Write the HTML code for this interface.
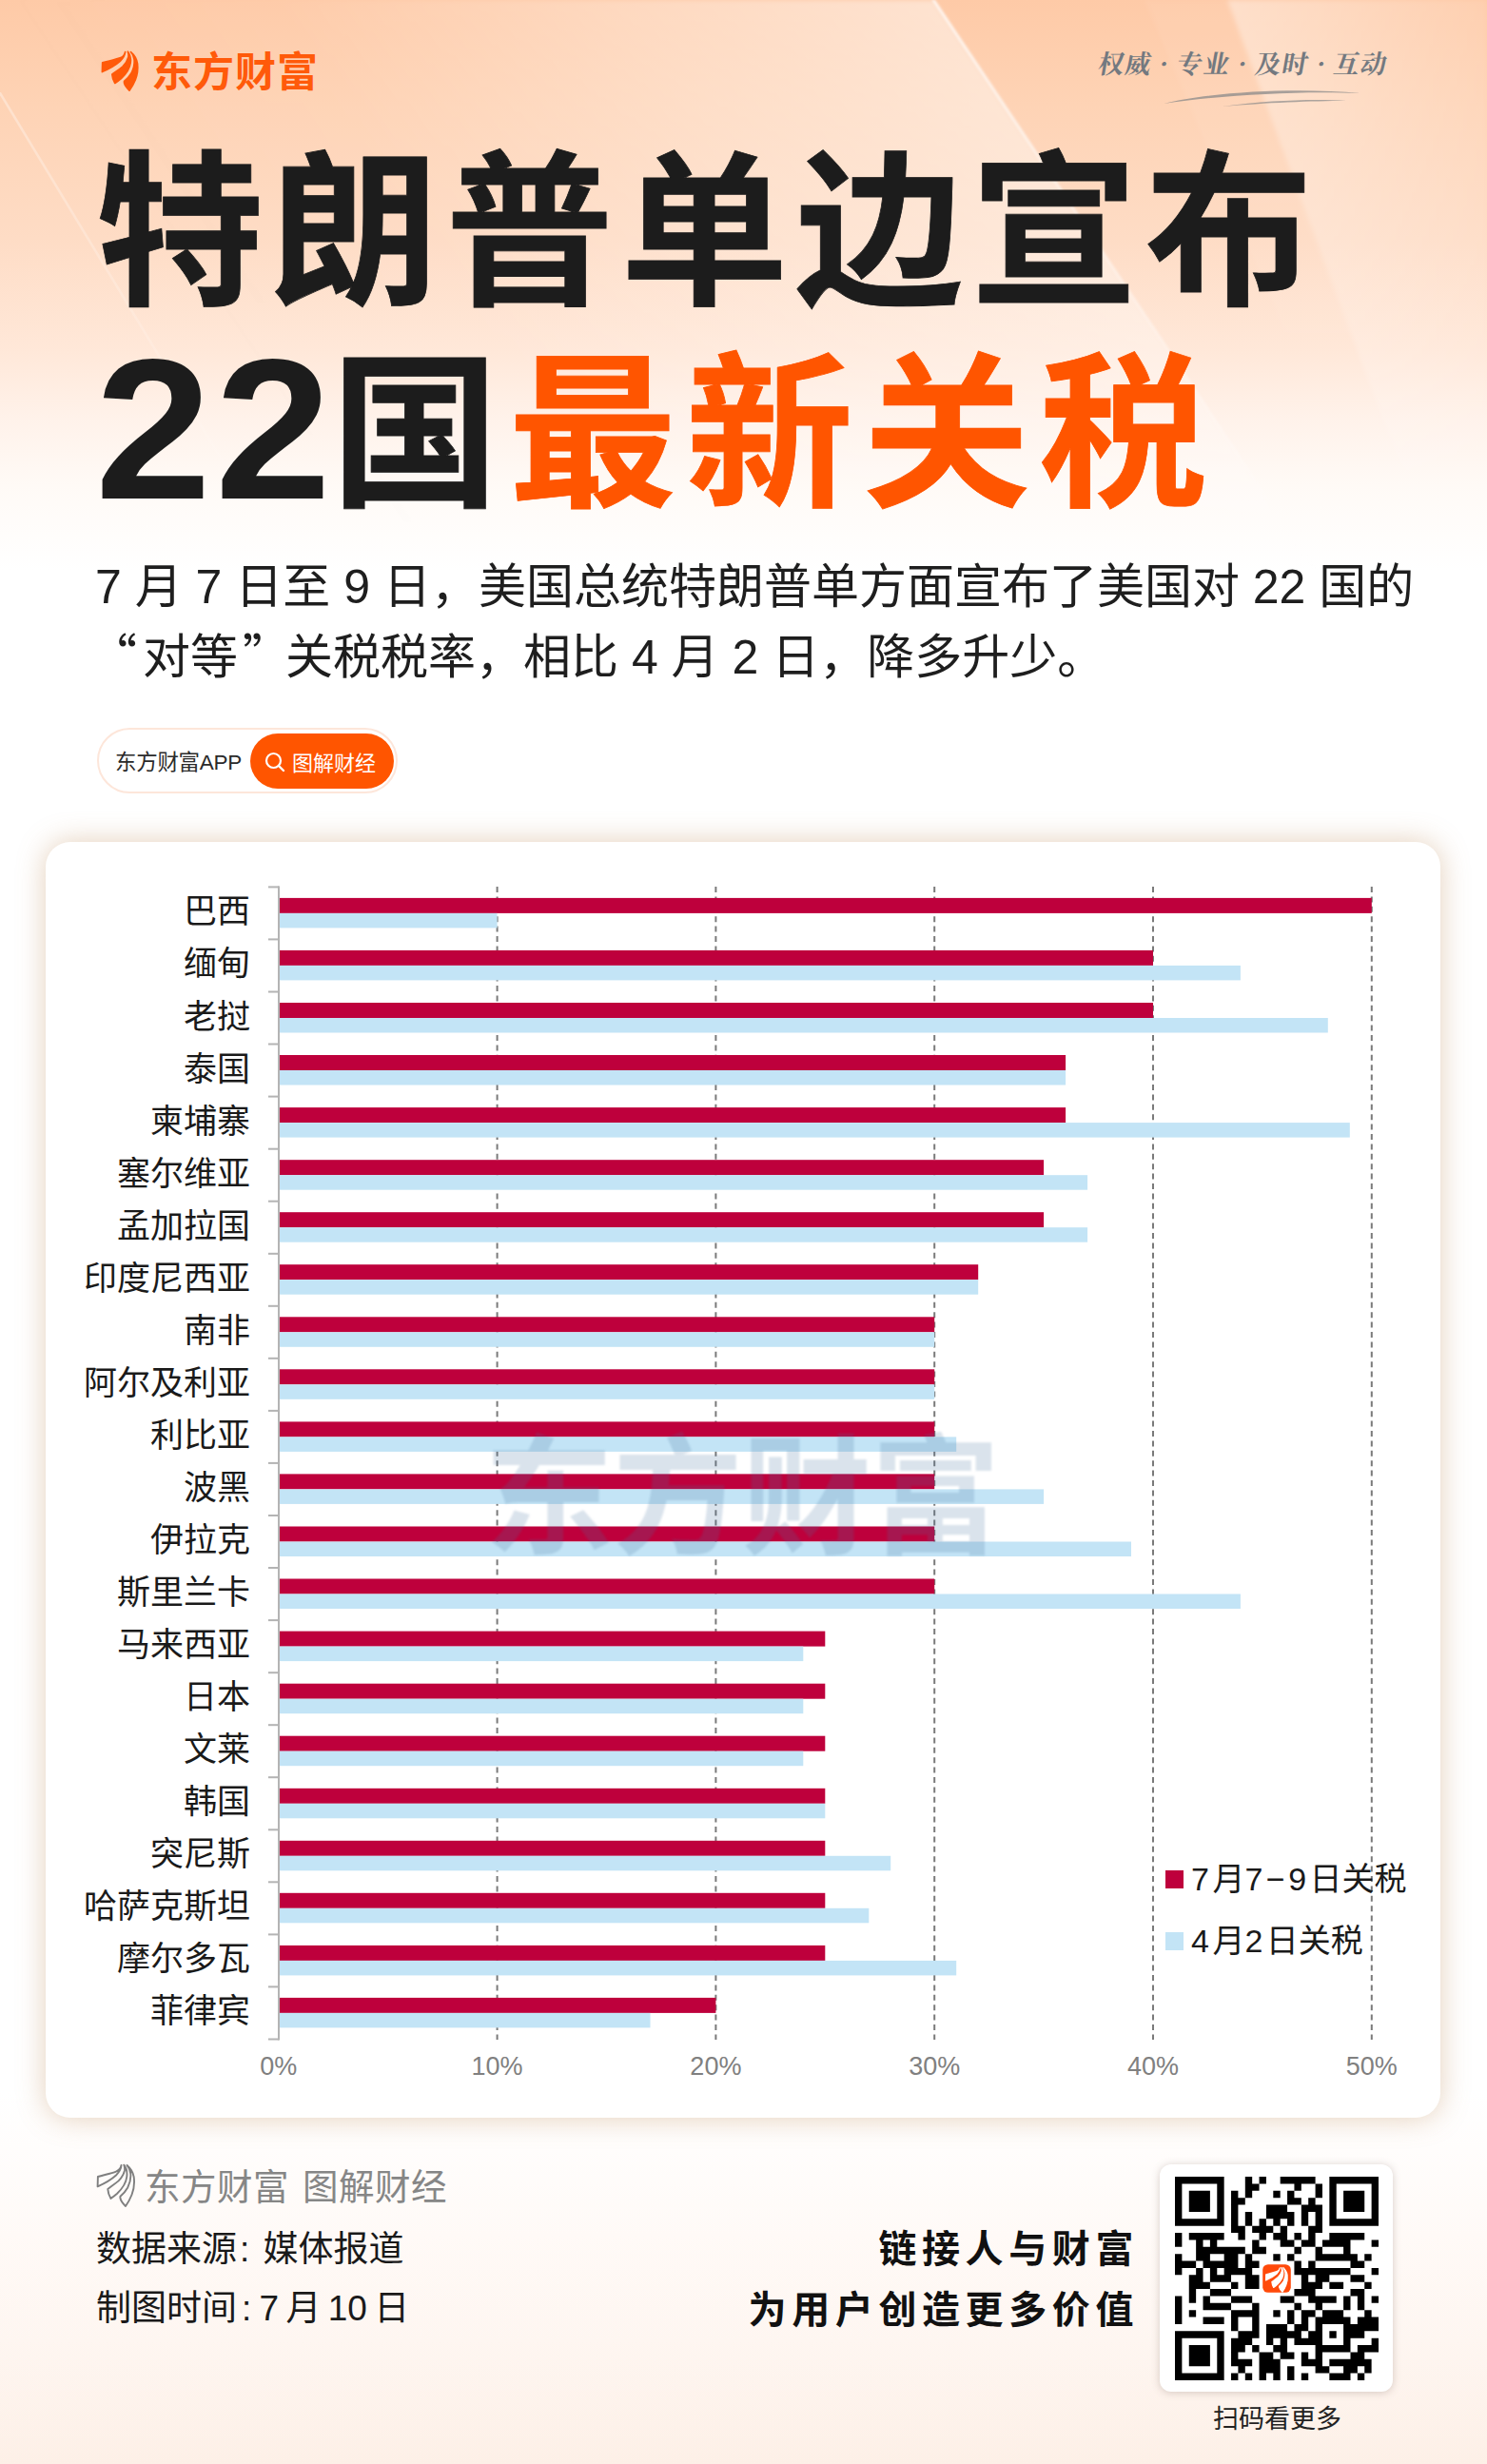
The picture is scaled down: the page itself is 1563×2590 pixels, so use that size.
<!DOCTYPE html>
<html lang="zh-CN">
<head>
<meta charset="utf-8">
<title>特朗普单边宣布22国最新关税</title>
<style>
*{margin:0;padding:0;box-sizing:border-box}
html,body{width:1563px;height:2590px;overflow:hidden}
body{position:relative;background:#fff;font-family:"Liberation Sans","Noto Sans CJK SC",sans-serif;color:#1a1a1a}
.abs{position:absolute;white-space:nowrap}
#bgtop{position:absolute;left:0;top:0;width:1563px;height:640px;
  background:linear-gradient(180deg,#fecaa7 0px,#fed3b5 110px,#fedcc5 250px,#ffe8d9 370px,#fff2ea 440px,#fffaf6 510px,#ffffff 600px)}
#bgbot{position:absolute;left:0;top:2200px;width:1563px;height:390px;
  background:linear-gradient(180deg,#ffffff 0px,#fffaf7 150px,#fef6f1 260px,#fdf0e7 390px)}
#logotxt{left:159px;top:51px;font:700 43px/1 "Noto Sans CJK SC",sans-serif;color:#ff5a0a;letter-spacing:1px}
#tag{left:1155px;top:52px;font:700 27px/1 "Noto Serif CJK SC",serif;color:#737980;letter-spacing:1.2px;transform:skewX(-10deg)}
.t1{left:101px;top:143px;font:700 176px/1 "Noto Sans CJK SC",sans-serif;color:#1c1c1c;letter-spacing:7.8px;-webkit-text-stroke:0.8px #1c1c1c}
.t2{left:100px;top:342px;font:700 176px/1 "Noto Sans CJK SC",sans-serif;color:#1c1c1c;letter-spacing:10.6px;-webkit-text-stroke:0.8px #1c1c1c}
.t2 .n{font:700 210px/1 "Liberation Sans",sans-serif;letter-spacing:9.4px;-webkit-text-stroke:0;position:relative;top:5px}
.t2 .d{display:inline-block;transform:scaleX(1.045);transform-origin:0 0}
.t2 .o{color:#ff5500;-webkit-text-stroke:0.8px #ff5500;letter-spacing:9.9px}
.sub{left:100px;font:400 50px/1 "Liberation Sans","Noto Sans CJK SC",sans-serif;color:#1e1e1e}
.cj{font-family:"Noto Sans CJK SC",sans-serif}
#pill{left:102px;top:765px;width:316px;height:69px;border-radius:35px;border:2px solid #fde6da;background:#fff}
#pill .a{position:absolute;left:17px;top:24px;font:400 22.5px/1 "Liberation Sans","Noto Sans CJK SC",sans-serif;color:#2a2a2a;letter-spacing:-0.3px}
#pill .b{position:absolute;left:159px;top:4px;width:151px;height:58px;border-radius:29px;background:#ff5500}
#pill .b span{position:absolute;left:44px;top:18px;font:400 22px/1 "Noto Sans CJK SC",sans-serif;color:#fff}
#card{position:absolute;left:48px;top:885px;width:1466px;height:1341px;border-radius:26px;background:#fff;
  box-shadow:0 0 30px rgba(190,140,90,0.42)}
.lab{position:absolute;right:1300px;font:400 35px/1 "Noto Sans CJK SC",sans-serif;color:#1a1a1a;text-align:right}
.xl{position:absolute;font:400 27px/1 "Liberation Sans",sans-serif;color:#808080;transform:translateX(-50%)}
.leg{position:absolute;font:400 34px/1 "Liberation Sans","Noto Sans CJK SC",sans-serif;color:#1a1a1a}
.leg i{font-style:normal;letter-spacing:3.5px}
#wm{left:509px;top:1496px;font:700 136px/1 "Noto Sans CJK SC",sans-serif;color:rgba(70,115,160,0.2);letter-spacing:-0.5px;filter:blur(1.2px)}
#f1{left:152px;top:2277px;font:400 37.5px/1 "Noto Sans CJK SC",sans-serif;color:#868686;letter-spacing:0.5px;word-spacing:5px}
.f2{left:101px;font:400 37px/1 "Liberation Sans","Noto Sans CJK SC",sans-serif;color:#1a1a1a}
.slo{right:366px;font:700 40px/1 "Noto Sans CJK SC",sans-serif;color:#111;letter-spacing:5.6px;text-align:right}
#qr{position:absolute;left:1219px;top:2275px;width:245px;height:239px;border-radius:12px;background:#fff;box-shadow:0 1px 9px rgba(120,100,90,0.3)}
#scan{left:1275px;top:2527px;font:400 27px/1 "Noto Sans CJK SC",sans-serif;color:#222}
</style>
</head>
<body>
<div id="bgtop"></div>
<div id="bgbot"></div>
<svg class="abs" style="left:0;top:0" width="1563" height="640" viewBox="0 0 1563 640">
  <defs>
    <linearGradient id="wl" gradientUnits="userSpaceOnUse" x1="0" y1="0" x2="1000" y2="-670">
      <stop offset="0" stop-color="#fff" stop-opacity="0"/>
      <stop offset="0.2" stop-color="#fff" stop-opacity="0.03"/>
      <stop offset="0.455" stop-color="#fff" stop-opacity="0.28"/>
      <stop offset="0.676" stop-color="#fff" stop-opacity="0.46"/>
    </linearGradient>
    <linearGradient id="wr" gradientUnits="userSpaceOnUse" x1="1290" y1="0" x2="1563" y2="0">
      <stop offset="0" stop-color="#fff" stop-opacity="0.40"/>
      <stop offset="1" stop-color="#fff" stop-opacity="0.10"/>
    </linearGradient>
    <linearGradient id="vf" x1="0" y1="0" x2="0" y2="1">
      <stop offset="0" stop-color="#fff" stop-opacity="1"/>
      <stop offset="0.6" stop-color="#fff" stop-opacity="0.7"/>
      <stop offset="1" stop-color="#fff" stop-opacity="0"/>
    </linearGradient>
    <mask id="vm"><rect width="1563" height="640" fill="url(#vf)"/></mask>
    <linearGradient id="lineg" x1="0" y1="0" x2="0" y2="1">
      <stop offset="0" stop-color="#fff" stop-opacity="0.7"/>
      <stop offset="1" stop-color="#fff" stop-opacity="0"/>
    </linearGradient>
    <filter id="bl2" x="-10%" y="-10%" width="120%" height="120%"><feGaussianBlur stdDeviation="2.5"/></filter>
    <filter id="bl1" x="-10%" y="-10%" width="120%" height="120%"><feGaussianBlur stdDeviation="0.8"/></filter>
  </defs>
  <g mask="url(#vm)">
    <polygon points="0,0 981,0 1383,600 0,600" fill="url(#wl)" filter="url(#bl2)"/>
    <polygon points="1290,0 1563,0 1563,640 1527,640" fill="url(#wr)" filter="url(#bl2)"/>
    <polygon points="1203,0 1290,0 1420,350 1350,350" fill="#fff" opacity="0.06" filter="url(#bl2)"/>
  </g>
  <polygon points="979,0 983,0 1385,600 1381,600" fill="url(#lineg)" filter="url(#bl1)"/>
  <polygon points="-2,97 1,97 281,560 278,560" fill="url(#lineg)" opacity="0.5"/>
</svg>
<!-- logo -->
<svg class="abs" style="left:100px;top:47px" width="52.5" height="51" viewBox="0 0 54 54" preserveAspectRatio="none">
  <g fill="#ff5a0a" stroke="#ff5a0a" stroke-width="1.7" stroke-linejoin="round">
  <path d="M7.9 20C14 18.2 22 16.5 27 14.6C30 13.4 32 11 32.5 8C32.2 12 30 15.5 27 18.5C22 23 14 27.5 7.6 30.3Z"/>
  <path d="M35.3 7.6C38 11 38.8 16 38.3 20C37.5 27 33 33 28.1 37.7C25.5 40 23.5 41.5 21.4 42.9C19.8 40 18.5 36.5 18.3 33C21 30.8 26 27.5 29.6 24.4C33 21 35 17.5 36 13.5C36.3 11.5 36 9.5 35.3 7.6Z"/>
  <path d="M38.5 8C42 11 45 15.5 45.8 21C46.6 28 45.5 34 43.5 39C41.5 44 39.5 47.5 37 51C34.5 48.5 32 45.5 31.4 42.5C31.3 41.5 31.3 40.8 31.4 40.7C34 38.5 37 35.5 39.2 31.5C41.5 27 42.7 22 42.3 17C42 13.5 40.5 10 38.5 8Z"/>
  </g>
</svg>
<div class="abs" id="logotxt">东方财富</div>
<div class="abs" id="tag">权威 · 专业 · 及时 · 互动</div>
<svg class="abs" style="left:1215px;top:88px" width="230" height="30" viewBox="0 0 230 30">
  <path d="M8 21 C60 8 150 4 215 10 C150 7 70 12 8 21Z" fill="#8a8a8a" opacity="0.75"/>
  <path d="M70 24 C120 17 170 16 200 18 C165 18 115 20 70 24Z" fill="#8a8a8a" opacity="0.7"/>
</svg>

<div class="abs t1">特朗普单边宣布</div>
<div class="abs t2"><span class="n"><span class="d">2</span><span class="d" style="letter-spacing:5.3px">2</span></span>国<span class="o">最新关税</span></div>

<div class="abs sub" style="top:592px">7 月 7 日至 9 日，美国总统特朗普单方面宣布了美国对 22 国的</div>
<div class="abs sub" style="top:661px"><span class="cj" style="position:relative;left:-6px">“</span>对等<span class="cj" style="position:relative;left:5px">”</span>关税税率，相比 4 月 2 日，降多升少。</div>

<div class="abs" id="pill">
  <div class="a">东方财富APP</div>
  <div class="b">
    <svg style="position:absolute;left:15px;top:19px" width="22" height="22" viewBox="0 0 22 22"><circle cx="9.5" cy="9.5" r="7.5" fill="none" stroke="#fff" stroke-width="2.2"/><path d="M15 15 L20 20" stroke="#fff" stroke-width="2.4" stroke-linecap="round"/></svg>
    <span>图解财经</span>
  </div>
</div>

<div id="card"></div>
<svg class="abs" style="left:0;top:0" width="1563" height="2590" viewBox="0 0 1563 2590">
<line x1="522.6" y1="932" x2="522.6" y2="2144" stroke="#7a7a7a" stroke-width="2" stroke-dasharray="6 4.4"/>
<line x1="752.4" y1="932" x2="752.4" y2="2144" stroke="#7a7a7a" stroke-width="2" stroke-dasharray="6 4.4"/>
<line x1="982.2" y1="932" x2="982.2" y2="2144" stroke="#7a7a7a" stroke-width="2" stroke-dasharray="6 4.4"/>
<line x1="1212.0" y1="932" x2="1212.0" y2="2144" stroke="#7a7a7a" stroke-width="2" stroke-dasharray="6 4.4"/>
<line x1="1441.8" y1="932" x2="1441.8" y2="2144" stroke="#7a7a7a" stroke-width="2" stroke-dasharray="6 4.4"/>
<rect x="294" y="943.9" width="1147.8" height="16" fill="#be003c"/>
<rect x="294" y="959.9" width="228.6" height="15.5" fill="#c3e4f6"/>
<rect x="294" y="998.9" width="918.0" height="16" fill="#be003c"/>
<rect x="294" y="1014.9" width="1009.9" height="15.5" fill="#c3e4f6"/>
<rect x="294" y="1054.0" width="918.0" height="16" fill="#be003c"/>
<rect x="294" y="1070.0" width="1101.8" height="15.5" fill="#c3e4f6"/>
<rect x="294" y="1109.0" width="826.1" height="16" fill="#be003c"/>
<rect x="294" y="1125.0" width="826.1" height="15.5" fill="#c3e4f6"/>
<rect x="294" y="1164.1" width="826.1" height="16" fill="#be003c"/>
<rect x="294" y="1180.1" width="1124.8" height="15.5" fill="#c3e4f6"/>
<rect x="294" y="1219.2" width="803.1" height="16" fill="#be003c"/>
<rect x="294" y="1235.2" width="849.1" height="15.5" fill="#c3e4f6"/>
<rect x="294" y="1274.2" width="803.1" height="16" fill="#be003c"/>
<rect x="294" y="1290.2" width="849.1" height="15.5" fill="#c3e4f6"/>
<rect x="294" y="1329.2" width="734.2" height="16" fill="#be003c"/>
<rect x="294" y="1345.2" width="734.2" height="15.5" fill="#c3e4f6"/>
<rect x="294" y="1384.3" width="688.2" height="16" fill="#be003c"/>
<rect x="294" y="1400.3" width="688.2" height="15.5" fill="#c3e4f6"/>
<rect x="294" y="1439.3" width="688.2" height="16" fill="#be003c"/>
<rect x="294" y="1455.3" width="688.2" height="15.5" fill="#c3e4f6"/>
<rect x="294" y="1494.4" width="688.2" height="16" fill="#be003c"/>
<rect x="294" y="1510.4" width="711.2" height="15.5" fill="#c3e4f6"/>
<rect x="294" y="1549.4" width="688.2" height="16" fill="#be003c"/>
<rect x="294" y="1565.4" width="803.1" height="15.5" fill="#c3e4f6"/>
<rect x="294" y="1604.5" width="688.2" height="16" fill="#be003c"/>
<rect x="294" y="1620.5" width="895.0" height="15.5" fill="#c3e4f6"/>
<rect x="294" y="1659.5" width="688.2" height="16" fill="#be003c"/>
<rect x="294" y="1675.5" width="1009.9" height="15.5" fill="#c3e4f6"/>
<rect x="294" y="1714.6" width="573.3" height="16" fill="#be003c"/>
<rect x="294" y="1730.6" width="550.3" height="15.5" fill="#c3e4f6"/>
<rect x="294" y="1769.7" width="573.3" height="16" fill="#be003c"/>
<rect x="294" y="1785.7" width="550.3" height="15.5" fill="#c3e4f6"/>
<rect x="294" y="1824.7" width="573.3" height="16" fill="#be003c"/>
<rect x="294" y="1840.7" width="550.3" height="15.5" fill="#c3e4f6"/>
<rect x="294" y="1879.8" width="573.3" height="16" fill="#be003c"/>
<rect x="294" y="1895.8" width="573.3" height="15.5" fill="#c3e4f6"/>
<rect x="294" y="1934.8" width="573.3" height="16" fill="#be003c"/>
<rect x="294" y="1950.8" width="642.2" height="15.5" fill="#c3e4f6"/>
<rect x="294" y="1989.8" width="573.3" height="16" fill="#be003c"/>
<rect x="294" y="2005.8" width="619.3" height="15.5" fill="#c3e4f6"/>
<rect x="294" y="2044.9" width="573.3" height="16" fill="#be003c"/>
<rect x="294" y="2060.9" width="711.2" height="15.5" fill="#c3e4f6"/>
<rect x="294" y="2099.9" width="458.4" height="16" fill="#be003c"/>
<rect x="294" y="2115.9" width="389.5" height="15.5" fill="#c3e4f6"/>
<rect x="292" y="931.4" width="2" height="1213.1" fill="#b4b4b4"/>
<rect x="282" y="931.4" width="11" height="2" fill="#b4b4b4"/>
<rect x="282" y="986.4" width="11" height="2" fill="#b4b4b4"/>
<rect x="282" y="1041.5" width="11" height="2" fill="#b4b4b4"/>
<rect x="282" y="1096.5" width="11" height="2" fill="#b4b4b4"/>
<rect x="282" y="1151.6" width="11" height="2" fill="#b4b4b4"/>
<rect x="282" y="1206.7" width="11" height="2" fill="#b4b4b4"/>
<rect x="282" y="1261.7" width="11" height="2" fill="#b4b4b4"/>
<rect x="282" y="1316.8" width="11" height="2" fill="#b4b4b4"/>
<rect x="282" y="1371.8" width="11" height="2" fill="#b4b4b4"/>
<rect x="282" y="1426.8" width="11" height="2" fill="#b4b4b4"/>
<rect x="282" y="1481.9" width="11" height="2" fill="#b4b4b4"/>
<rect x="282" y="1536.9" width="11" height="2" fill="#b4b4b4"/>
<rect x="282" y="1592.0" width="11" height="2" fill="#b4b4b4"/>
<rect x="282" y="1647.0" width="11" height="2" fill="#b4b4b4"/>
<rect x="282" y="1702.1" width="11" height="2" fill="#b4b4b4"/>
<rect x="282" y="1757.2" width="11" height="2" fill="#b4b4b4"/>
<rect x="282" y="1812.2" width="11" height="2" fill="#b4b4b4"/>
<rect x="282" y="1867.2" width="11" height="2" fill="#b4b4b4"/>
<rect x="282" y="1922.3" width="11" height="2" fill="#b4b4b4"/>
<rect x="282" y="1977.3" width="11" height="2" fill="#b4b4b4"/>
<rect x="282" y="2032.4" width="11" height="2" fill="#b4b4b4"/>
<rect x="282" y="2087.4" width="11" height="2" fill="#b4b4b4"/>
<rect x="282" y="2142.5" width="11" height="2" fill="#b4b4b4"/>
<rect x="1225" y="1966" width="19" height="19" fill="#be003c"/>
<rect x="1225" y="2031" width="19" height="19" fill="#c3e4f6"/>
</svg>
<div class="lab" style="top:937.4px">巴西</div>
<div class="lab" style="top:992.4px">缅甸</div>
<div class="lab" style="top:1047.5px">老挝</div>
<div class="lab" style="top:1102.5px">泰国</div>
<div class="lab" style="top:1157.6px">柬埔寨</div>
<div class="lab" style="top:1212.7px">塞尔维亚</div>
<div class="lab" style="top:1267.7px">孟加拉国</div>
<div class="lab" style="top:1322.8px">印度尼西亚</div>
<div class="lab" style="top:1377.8px">南非</div>
<div class="lab" style="top:1432.8px">阿尔及利亚</div>
<div class="lab" style="top:1487.9px">利比亚</div>
<div class="lab" style="top:1542.9px">波黑</div>
<div class="lab" style="top:1598.0px">伊拉克</div>
<div class="lab" style="top:1653.0px">斯里兰卡</div>
<div class="lab" style="top:1708.1px">马来西亚</div>
<div class="lab" style="top:1763.2px">日本</div>
<div class="lab" style="top:1818.2px">文莱</div>
<div class="lab" style="top:1873.2px">韩国</div>
<div class="lab" style="top:1928.3px">突尼斯</div>
<div class="lab" style="top:1983.3px">哈萨克斯坦</div>
<div class="lab" style="top:2038.4px">摩尔多瓦</div>
<div class="lab" style="top:2093.4px">菲律宾</div>
<div class="xl" style="left:292.8px;top:2158.5px">0%</div>
<div class="xl" style="left:522.6px;top:2158.5px">10%</div>
<div class="xl" style="left:752.4px;top:2158.5px">20%</div>
<div class="xl" style="left:982.2px;top:2158.5px">30%</div>
<div class="xl" style="left:1212.0px;top:2158.5px">40%</div>
<div class="xl" style="left:1441.8px;top:2158.5px">50%</div>
<div class="leg" style="left:1252px;top:1958px"><i>7</i>月<i>7−9</i>日关税</div>
<div class="leg" style="left:1252px;top:2022.5px"><i>4</i>月<i>2</i>日关税</div>
<div class="abs" id="wm">东方财富</div>

<svg class="abs" style="left:95px;top:2268px" width="54" height="54" viewBox="0 0 54 54">
  <g fill="none" stroke="#7f7f7f" stroke-width="1.9" stroke-linejoin="round">
  <path d="M7.9 20C14 18.2 22 16.5 27 14.6C30 13.4 32 11 32.5 8C32.2 12 30 15.5 27 18.5C22 23 14 27.5 7.6 30.3Z"/>
  <path d="M35.3 7.6C38 11 38.8 16 38.3 20C37.5 27 33 33 28.1 37.7C25.5 40 23.5 41.5 21.4 42.9C19.8 40 18.5 36.5 18.3 33C21 30.8 26 27.5 29.6 24.4C33 21 35 17.5 36 13.5C36.3 11.5 36 9.5 35.3 7.6Z"/>
  <path d="M38.5 8C42 11 45 15.5 45.8 21C46.6 28 45.5 34 43.5 39C41.5 44 39.5 47.5 37 51C34.5 48.5 32 45.5 31.4 42.5C31.3 41.5 31.3 40.8 31.4 40.7C34 38.5 37 35.5 39.2 31.5C41.5 27 42.7 22 42.3 17C42 13.5 40.5 10 38.5 8Z"/>
  </g>
</svg>
<div class="abs" id="f1">东方财富 图解财经</div>
<div class="abs f2" style="top:2346px">数据来源<span style="margin:0 4px 0 3px">:</span> 媒体报道</div>
<div class="abs f2" style="top:2408px;word-spacing:-3px">制图时间<span style="margin:0 1px 0 5px">:</span> 7 月 10 日</div>
<div class="abs slo" style="top:2341px">链接人与财富</div>
<div class="abs slo" style="top:2405px">为用户创造更多价值</div>
<div id="qr"></div>
<svg class="abs" style="left:1235.2px;top:2287.8px" width="214" height="214" viewBox="0 0 29 29"><path d="M0 0h7v1h-7zM10 0h1v1h-1zM12 0h1v1h-1zM15 0h5v1h-5zM22 0h7v1h-7zM0 1h1v1h-1zM6 1h1v1h-1zM10 1h2v1h-2zM17 1h1v1h-1zM20 1h1v1h-1zM22 1h1v1h-1zM28 1h1v1h-1zM0 2h1v1h-1zM2 2h3v1h-3zM6 2h1v1h-1zM8 2h1v1h-1zM10 2h1v1h-1zM14 2h1v1h-1zM16 2h1v1h-1zM20 2h1v1h-1zM22 2h1v1h-1zM24 2h3v1h-3zM28 2h1v1h-1zM0 3h1v1h-1zM2 3h3v1h-3zM6 3h1v1h-1zM8 3h2v1h-2zM16 3h2v1h-2zM19 3h1v1h-1zM22 3h1v1h-1zM24 3h3v1h-3zM28 3h1v1h-1zM0 4h1v1h-1zM2 4h3v1h-3zM6 4h1v1h-1zM8 4h1v1h-1zM13 4h3v1h-3zM18 4h3v1h-3zM22 4h1v1h-1zM24 4h3v1h-3zM28 4h1v1h-1zM0 5h1v1h-1zM6 5h1v1h-1zM8 5h1v1h-1zM10 5h1v1h-1zM13 5h4v1h-4zM18 5h1v1h-1zM20 5h1v1h-1zM22 5h1v1h-1zM28 5h1v1h-1zM0 6h7v1h-7zM8 6h1v1h-1zM10 6h1v1h-1zM12 6h1v1h-1zM14 6h1v1h-1zM16 6h1v1h-1zM18 6h1v1h-1zM20 6h1v1h-1zM22 6h7v1h-7zM8 7h2v1h-2zM11 7h3v1h-3zM15 7h1v1h-1zM19 7h2v1h-2zM0 8h1v1h-1zM2 8h5v1h-5zM9 8h1v1h-1zM12 8h1v1h-1zM14 8h2v1h-2zM17 8h1v1h-1zM19 8h1v1h-1zM22 8h5v1h-5zM0 9h1v1h-1zM3 9h1v1h-1zM5 9h1v1h-1zM11 9h1v1h-1zM15 9h2v1h-2zM18 9h2v1h-2zM21 9h4v1h-4zM28 9h1v1h-1zM3 10h7v1h-7zM11 10h2v1h-2zM17 10h1v1h-1zM20 10h1v1h-1zM24 10h1v1h-1zM0 11h1v1h-1zM3 11h2v1h-2zM7 11h2v1h-2zM10 11h1v1h-1zM14 11h1v1h-1zM16 11h1v1h-1zM20 11h6v1h-6zM27 11h1v1h-1zM0 12h3v1h-3zM4 12h5v1h-5zM10 12h2v1h-2zM17 12h1v1h-1zM19 12h1v1h-1zM25 12h2v1h-2zM0 13h1v1h-1zM3 13h1v1h-1zM5 13h1v1h-1zM7 13h4v1h-4zM17 13h8v1h-8zM28 13h1v1h-1zM2 14h2v1h-2zM5 14h3v1h-3zM10 14h2v1h-2zM18 14h1v1h-1zM20 14h2v1h-2zM25 14h2v1h-2zM2 15h3v1h-3zM8 15h1v1h-1zM10 15h2v1h-2zM18 15h3v1h-3zM22 15h2v1h-2zM27 15h1v1h-1zM2 16h1v1h-1zM5 16h3v1h-3zM17 16h3v1h-3zM25 16h2v1h-2zM0 17h1v1h-1zM2 17h1v1h-1zM4 17h1v1h-1zM8 17h3v1h-3zM15 17h2v1h-2zM19 17h4v1h-4zM24 17h1v1h-1zM26 17h1v1h-1zM28 17h1v1h-1zM0 18h1v1h-1zM4 18h4v1h-4zM11 18h1v1h-1zM17 18h1v1h-1zM20 18h1v1h-1zM24 18h1v1h-1zM26 18h1v1h-1zM0 19h1v1h-1zM2 19h1v1h-1zM8 19h4v1h-4zM14 19h1v1h-1zM16 19h1v1h-1zM18 19h2v1h-2zM21 19h3v1h-3zM27 19h1v1h-1zM0 20h1v1h-1zM4 20h3v1h-3zM8 20h1v1h-1zM11 20h1v1h-1zM16 20h1v1h-1zM18 20h1v1h-1zM20 20h5v1h-5zM26 20h3v1h-3zM8 21h1v1h-1zM11 21h1v1h-1zM13 21h3v1h-3zM17 21h2v1h-2zM20 21h1v1h-1zM24 21h5v1h-5zM0 22h7v1h-7zM9 22h3v1h-3zM13 22h5v1h-5zM19 22h2v1h-2zM22 22h1v1h-1zM24 22h3v1h-3zM0 23h1v1h-1zM6 23h1v1h-1zM8 23h3v1h-3zM13 23h1v1h-1zM15 23h1v1h-1zM17 23h4v1h-4zM24 23h1v1h-1zM28 23h1v1h-1zM0 24h1v1h-1zM2 24h3v1h-3zM6 24h1v1h-1zM8 24h2v1h-2zM11 24h1v1h-1zM14 24h2v1h-2zM20 24h5v1h-5zM26 24h3v1h-3zM0 25h1v1h-1zM2 25h3v1h-3zM6 25h1v1h-1zM8 25h1v1h-1zM12 25h2v1h-2zM15 25h2v1h-2zM18 25h1v1h-1zM20 25h1v1h-1zM25 25h2v1h-2zM0 26h1v1h-1zM2 26h3v1h-3zM6 26h1v1h-1zM8 26h3v1h-3zM12 26h3v1h-3zM18 26h3v1h-3zM22 26h6v1h-6zM0 27h1v1h-1zM6 27h1v1h-1zM9 27h1v1h-1zM12 27h3v1h-3zM16 27h1v1h-1zM20 27h2v1h-2zM24 27h2v1h-2zM27 27h1v1h-1zM0 28h7v1h-7zM8 28h1v1h-1zM10 28h1v1h-1zM12 28h1v1h-1zM14 28h1v1h-1zM16 28h1v1h-1zM18 28h1v1h-1zM22 28h3v1h-3zM26 28h1v1h-1z" fill="#000"/></svg>
<svg class="abs" style="left:1322.5px;top:2375.5px" width="38" height="38" viewBox="0 0 54 54">
  <rect x="4" y="4" width="46" height="46" rx="9" fill="#fff"/>
  <rect x="6" y="6" width="42" height="42" rx="8" fill="#ff4a0a"/>
  <g fill="#fff" stroke="#fff" stroke-width="2" stroke-linejoin="round" transform="translate(27 27) scale(0.84) translate(-27 -27)">
  <path d="M7.9 20C14 18.2 22 16.5 27 14.6C30 13.4 32 11 32.5 8C32.2 12 30 15.5 27 18.5C22 23 14 27.5 7.6 30.3Z"/>
  <path d="M35.3 7.6C38 11 38.8 16 38.3 20C37.5 27 33 33 28.1 37.7C25.5 40 23.5 41.5 21.4 42.9C19.8 40 18.5 36.5 18.3 33C21 30.8 26 27.5 29.6 24.4C33 21 35 17.5 36 13.5C36.3 11.5 36 9.5 35.3 7.6Z"/>
  <path d="M38.5 8C42 11 45 15.5 45.8 21C46.6 28 45.5 34 43.5 39C41.5 44 39.5 47.5 37 51C34.5 48.5 32 45.5 31.4 42.5C31.3 41.5 31.3 40.8 31.4 40.7C34 38.5 37 35.5 39.2 31.5C41.5 27 42.7 22 42.3 17C42 13.5 40.5 10 38.5 8Z"/>
  </g>
</svg>
<div class="abs" id="scan">扫码看更多</div>
</body>
</html>
